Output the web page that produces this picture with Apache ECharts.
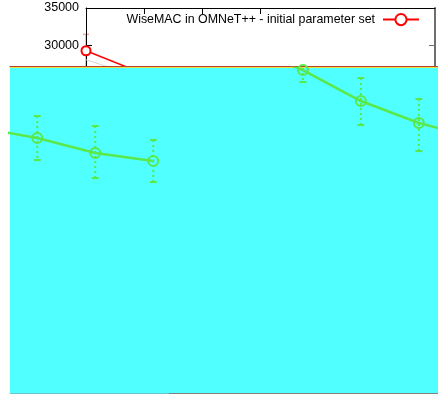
<!DOCTYPE html>
<html>
<head>
<meta charset="utf-8">
<script src="https://cdn.jsdelivr.net/npm/echarts@6/dist/echarts.min.js"></script>
<style>
  html, body { margin: 0; padding: 0; background: #ffffff; }
  #chart { width: 438px; height: 396px; }
</style>
</head>
<body>
<div id="chart"></div>
<script>
// Upper panel: initial parameter set (red) and its faint companion trace
const seriesName = 'WiseMAC in OMNeT++ - initial parameter set';
const initialX = [0, 1];
const initialY = [29300, 26200];
const initialErrLow = [27100, null];
const initialErrHigh = [31500, null];
const faintX = [0, 1];
const faintY = [28100, 25600];

// Upper panel tick marks and labels
const upperXTicks = [1, 2, 3];
const upperYLabels = [30000, 35000];
const upperRightTicks = [30000];

// Lower panel (green), two visible runs
const greenLeftX = [-1, 0, 1, 2];
const greenLeftY = [19090, 17670, 15670, 14600];
const greenLeftLow = [null, 14730, 12330, 11800];
const greenLeftHigh = [null, 20600, 19270, 17400];

const greenRightX = [3.58, 4.58, 5.58, 6.58, 7.58];
const greenRightY = [29800, 26730, 22600, 19670, 17670];
const greenRightLow = [null, 25130, 19400, 15930, null];
const greenRightHigh = [null, 28200, 25670, 22870, null];

const FONT = "'Liberation Sans', Arial, Helvetica, sans-serif";
const RED = '#ff0000';
const GREEN = '#5ae84a';
const CYAN = '#50ffff';

function pairs(xs, ys) { return xs.map((x, i) => [x, ys[i]]); }
function errRows(xs, lo, hi) {
  const rows = [];
  xs.forEach((x, i) => { if (lo[i] != null && hi[i] != null) rows.push([x, lo[i], hi[i]]); });
  return rows;
}

// Vertical error bar with caps, clamped to its grid
function errorBar(color, width, dash, capHalf) {
  return function (params, api) {
    const x = api.value(0), lo = api.value(1), hi = api.value(2);
    const pLo = api.coord([x, lo]);
    const pHi = api.coord([x, hi]);
    const cs = params.coordSys;
    const top = cs.y, bottom = cs.y + cs.height;
    const y1 = Math.max(pHi[1], top), y2 = Math.min(pLo[1], bottom);
    const kids = [];
    if (y2 > y1) kids.push({ type: 'line', shape: { x1: pHi[0], y1: y1, x2: pHi[0], y2: y2 }, style: { stroke: color, lineWidth: width, lineDash: dash } });
    if (pHi[1] >= top && pHi[1] <= bottom)
      kids.push({ type: 'line', shape: { x1: pHi[0] - capHalf, y1: pHi[1], x2: pHi[0] + capHalf, y2: pHi[1] }, style: { stroke: color, lineWidth: width } });
    if (pLo[1] >= top && pLo[1] <= bottom)
      kids.push({ type: 'line', shape: { x1: pLo[0] - capHalf, y1: pLo[1], x2: pLo[0] + capHalf, y2: pLo[1] }, style: { stroke: color, lineWidth: width } });
    return { type: 'group', children: kids };
  };
}

const chart = echarts.init(document.getElementById('chart'), null, { renderer: 'canvas' });

const plainNumber = v => String(v);

chart.setOption({
  animation: false,
  backgroundColor: '#ffffff',
  textStyle: { fontFamily: FONT },
  legend: {
    data: [seriesName],
    right: 18,
    top: 13,
    padding: 0,
    align: 'right',
    itemWidth: 36,
    itemHeight: 14,
    textStyle: { fontFamily: FONT, fontSize: 12.4, color: '#000000', padding: [0, 3, 0, 0] }
  },
  grid: [
    { left: 86, right: 3, top: 8, height: 60, containLabel: false },
    { left: 10, right: 0, top: 68, bottom: 3, show: true, backgroundColor: CYAN, borderWidth: 0, z: 5 }
  ],
  xAxis: [
    {
      gridIndex: 0, type: 'value', position: 'top', min: 0, max: 6,
      axisLine: { onZero: false, lineStyle: { color: '#000000', width: 1 } },
      axisTick: { inside: true, length: 6, customValues: upperXTicks, lineStyle: { color: '#000000' } },
      axisLabel: { show: false },
      splitLine: { show: false }
    },
    {
      gridIndex: 1, type: 'value', position: 'bottom', min: -0.47, max: 6.91, z: 6,
      axisLine: {
        onZero: false,
        lineStyle: {
          width: 1,
          color: new echarts.graphic.LinearGradient(0, 0, 1, 0, [
            { offset: 0, color: '#6cc8c8' }, { offset: 0.373, color: '#6cc8c8' },
            { offset: 0.374, color: '#808080' }, { offset: 1, color: '#808080' }
          ])
        }
      },
      axisTick: { show: false }, axisLabel: { show: false }, splitLine: { show: false }
    },
    {
      gridIndex: 1, type: 'value', position: 'top', offset: 1, min: -0.47, max: 6.91, z: 6,
      axisLine: { onZero: false, lineStyle: { color: '#eadf3c', width: 1 } },
      axisTick: { show: false }, axisLabel: { show: false }, splitLine: { show: false }
    },
    {
      gridIndex: 1, type: 'value', position: 'top', offset: 2, min: -0.47, max: 6.91, z: 6,
      axisLine: { onZero: false, lineStyle: { color: '#b8402c', width: 1 } },
      axisTick: { show: false }, axisLabel: { show: false }, splitLine: { show: false }
    }
  ],
  yAxis: [
    {
      gridIndex: 0, type: 'value', position: 'left', min: 27000, max: 35000,
      axisLine: { show: true, onZero: false, lineStyle: { color: '#000000', width: 1 } },
      axisTick: { show: true, inside: true, length: 6, customValues: upperYLabels, lineStyle: { color: '#000000' } },
      axisLabel: { customValues: upperYLabels, formatter: plainNumber, margin: 7, color: '#000000', fontSize: 12.5, fontFamily: FONT },
      splitLine: { show: false }
    },
    {
      gridIndex: 0, type: 'value', position: 'right', min: 27000, max: 35000,
      axisLine: { show: true, onZero: false, lineStyle: { color: '#6e6e6e', width: 2 } },
      axisTick: { show: true, inside: true, length: 6, customValues: upperRightTicks, lineStyle: { color: '#6e6e6e' } },
      axisLabel: { show: false },
      splitLine: { show: false }
    },
    {
      gridIndex: 1, type: 'value', min: -16300, max: 27000, show: false,
      axisLine: { onZero: false },
      splitLine: { show: false }
    }
  ],
  series: [
    {
      name: 'faint', type: 'line', xAxisIndex: 0, yAxisIndex: 0,
      data: pairs(faintX, faintY), showSymbol: false, symbol: 'none',
      lineStyle: { color: '#d4d4d4', width: 1 }, clip: true, silent: true
    },
    {
      name: 'initial-err', type: 'custom', xAxisIndex: 0, yAxisIndex: 0,
      data: errRows(initialX, initialErrLow, initialErrHigh),
      encode: { x: 0, y: [1, 2] },
      renderItem: errorBar('#f08080', 1, null, 3), silent: true, z: -1
    },
    {
      name: seriesName, type: 'line', xAxisIndex: 0, yAxisIndex: 0,
      data: pairs(initialX, initialY),
      symbol: 'emptyCircle', symbolSize: 9, showSymbol: true,
      itemStyle: { color: RED, borderColor: RED, borderWidth: 1.5 },
      lineStyle: { color: RED, width: 1.5 }, clip: true
    },
    {
      name: 'green-left', type: 'line', xAxisIndex: 1, yAxisIndex: 2, z: 7,
      data: pairs(greenLeftX, greenLeftY),
      symbol: 'circle', symbolSize: 10, showSymbol: true,
      itemStyle: { color: 'rgba(0,0,0,0)', borderColor: GREEN, borderWidth: 2 },
      lineStyle: { color: GREEN, width: 2.5 }, clip: true, silent: true
    },
    {
      name: 'green-right', type: 'line', xAxisIndex: 1, yAxisIndex: 2, z: 7,
      data: pairs(greenRightX, greenRightY),
      symbol: 'circle', symbolSize: 10, showSymbol: true,
      itemStyle: { color: 'rgba(0,0,0,0)', borderColor: GREEN, borderWidth: 2 },
      lineStyle: { color: GREEN, width: 2.5 }, clip: true, silent: true
    },
    {
      name: 'green-left-err', type: 'custom', xAxisIndex: 1, yAxisIndex: 2, z: 7,
      data: errRows(greenLeftX, greenLeftLow, greenLeftHigh),
      encode: { x: 0, y: [1, 2] },
      renderItem: errorBar(GREEN, 2, [2, 3], 3.5), silent: true
    },
    {
      name: 'green-right-err', type: 'custom', xAxisIndex: 1, yAxisIndex: 2, z: 7,
      data: errRows(greenRightX, greenRightLow, greenRightHigh),
      encode: { x: 0, y: [1, 2] },
      renderItem: errorBar(GREEN, 2, [2, 3], 3.5), silent: true
    }
  ]
});
</script>
</body>
</html>
